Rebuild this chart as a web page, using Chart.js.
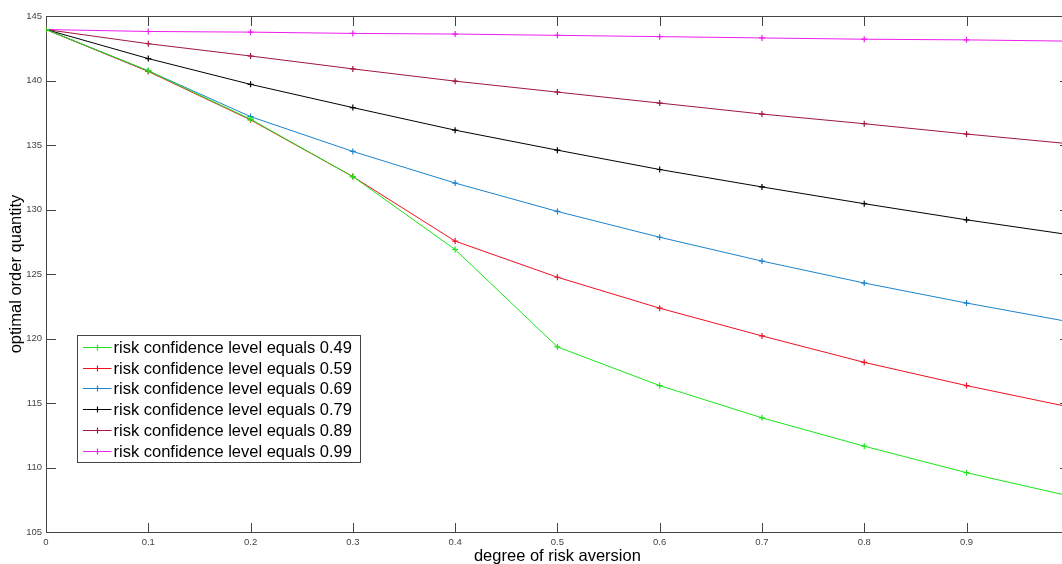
<!DOCTYPE html>
<html><head><meta charset="utf-8">
<script src="https://cdn.jsdelivr.net/npm/chart.js@4/dist/chart.umd.min.js"></script>
<style>
html,body{margin:0;padding:0;overflow:hidden;background:#fff;}
#wrap{position:relative;width:1074px;height:564px;}
</style></head><body>
<div id="wrap"><canvas id="c"></canvas></div>
<script>
// degree of risk aversion
const xValues = [0, 0.1, 0.2, 0.3, 0.4, 0.5, 0.6, 0.7, 0.8, 0.9, 1.0];
const xTicks = [0, 0.1, 0.2, 0.3, 0.4, 0.5, 0.6, 0.7, 0.8, 0.9];
const xTickLabels = ['0', '0.1', '0.2', '0.3', '0.4', '0.5', '0.6', '0.7', '0.8', '0.9'];
const yTicks = [105, 110, 115, 120, 125, 130, 135, 140, 145];
const yTickLabels = ['105', '110', '115', '120', '125', '130', '135', '140', '145'];

const seriesLabels = [
  'risk confidence level equals 0.49',
  'risk confidence level equals 0.59',
  'risk confidence level equals 0.69',
  'risk confidence level equals 0.79',
  'risk confidence level equals 0.89',
  'risk confidence level equals 0.99'
];
const q049 = [143.95, 140.75, 137.0, 132.55, 126.9, 119.35, 116.35, 113.85, 111.65, 109.6, 107.8];
const q059 = [143.95, 140.7, 136.95, 132.55, 127.55, 124.75, 122.35, 120.2, 118.15, 116.35, 114.7];
const q069 = [143.95, 140.75, 137.2, 134.5, 132.05, 129.85, 127.85, 126.0, 124.3, 122.75, 121.3];
const q079 = [143.95, 141.7, 139.7, 137.9, 136.15, 134.6, 133.1, 131.75, 130.45, 129.2, 128.05];
const q089 = [143.95, 142.85, 141.9, 140.9, 139.95, 139.1, 138.25, 137.4, 136.65, 135.85, 135.1];
const q099 = [143.95, 143.8, 143.75, 143.65, 143.6, 143.5, 143.4, 143.3, 143.2, 143.15, 143.05];
const seriesValues = [q049, q059, q069, q079, q089, q099];
const seriesColors = ['#19e619', '#f01020', '#1c84cc', '#000000', '#a0183e', '#ec1eec'];

const FONT = "'Liberation Sans', Arial, Helvetica, sans-serif";

const datasets = seriesValues.map((vals, i) => ({
  label: seriesLabels[i],
  data: vals.map((v, j) => ({x: xValues[j], y: v})),
  borderColor: seriesColors[i],
  backgroundColor: seriesColors[i],
  borderWidth: 1,
  pointStyle: 'cross',
  pointRadius: 3,
  pointBorderWidth: 1.2,
  pointBorderColor: seriesColors[i],
  tension: 0,
  fill: false
}));

const framePlugin = {
  id: 'frame',
  beforeDatasetsDraw(chart) {
    const {ctx, chartArea: a, scales: {x, y}} = chart;
    const L = Math.round(a.left) + 0.5, R = Math.round(a.right) + 0.5;
    const T = Math.round(a.top) + 0.5, B = Math.round(a.bottom) + 0.5;
    const tl = 9.5;
    ctx.save();
    ctx.strokeStyle = '#444';
    ctx.lineWidth = 1;
    ctx.strokeRect(L, T, R - L, B - T);
    ctx.beginPath();
    x.ticks.forEach(t => {
      const px = Math.round(x.getPixelForValue(t.value)) + 0.5;
      ctx.moveTo(px, B); ctx.lineTo(px, B - tl);
      ctx.moveTo(px, T); ctx.lineTo(px, T + tl);
    });
    y.ticks.forEach(t => {
      const py = Math.round(y.getPixelForValue(t.value)) + 0.5;
      ctx.moveTo(L, py); ctx.lineTo(L + tl, py);
      ctx.moveTo(R, py); ctx.lineTo(R - tl, py);
    });
    ctx.stroke();
    ctx.restore();
  },
  afterDatasetsDraw(chart) {
    const {ctx} = chart;
    const bx = 77.5, by = 335.5, bw = 283, bh = 127;
    const row0 = 346.7, rowH = 20.86;
    ctx.save();
    ctx.fillStyle = '#fff';
    ctx.fillRect(bx, by, bw, bh);
    ctx.strokeStyle = '#444';
    ctx.lineWidth = 1;
    ctx.strokeRect(bx, by, bw, bh);
    ctx.font = '16.5px ' + FONT;
    ctx.textBaseline = 'middle';
    ctx.textAlign = 'left';
    chart.data.datasets.forEach((ds, i) => {
      const cy = Math.round(row0 + i * rowH) + 0.5;
      ctx.strokeStyle = ds.borderColor;
      ctx.lineWidth = 1.2;
      ctx.beginPath();
      ctx.moveTo(83, cy); ctx.lineTo(111.5, cy);
      ctx.moveTo(97.5, cy - 3); ctx.lineTo(97.5, cy + 3);
      ctx.stroke();
      ctx.fillStyle = '#000';
      ctx.fillText(ds.label, 113.5, cy + 0.5);
    });
    ctx.restore();
  }
};

new Chart(document.getElementById('c'), {
  type: 'line',
  data: {datasets},
  options: {
    responsive: true,
    maintainAspectRatio: false,
    animation: false,
    devicePixelRatio: 1,
    layout: {padding: {top: 16, right: 1, left: 0, bottom: 0}},
    plugins: {legend: {display: false}, tooltip: {enabled: false}},
    scales: {
      x: {
        type: 'linear',
        min: 0,
        max: 1,
        afterBuildTicks: s => { s.ticks = xTicks.map(v => ({value: v})); },
        afterFit: s => { s.height = 32; },
        grid: {display: false, drawTicks: false},
        border: {display: false},
        ticks: {
          callback: (v, i) => xTickLabels[i],
          font: {size: 9.5, family: FONT},
          color: '#444',
          padding: 5,
          maxRotation: 0,
          autoSkip: false
        },
        title: {
          display: true,
          text: 'degree of risk aversion',
          font: {size: 16.5, family: FONT, lineHeight: 1},
          color: '#000',
          padding: {top: 0, bottom: -1}
        }
      },
      y: {
        type: 'linear',
        min: 105,
        max: 145,
        afterBuildTicks: s => { s.ticks = yTicks.map(v => ({value: v})); },
        afterFit: s => { s.width = 46; },
        grid: {display: false, drawTicks: false},
        border: {display: false},
        ticks: {
          callback: (v, i) => yTickLabels[i],
          font: {size: 9.5, family: FONT},
          color: '#444',
          padding: 4,
          autoSkip: false
        },
        title: {
          display: true,
          text: 'optimal order quantity',
          font: {size: 16.5, family: FONT, lineHeight: 1},
          color: '#000',
          padding: {top: 8, bottom: 0}
        }
      }
    }
  },
  plugins: [framePlugin]
});
</script>
</body></html>
